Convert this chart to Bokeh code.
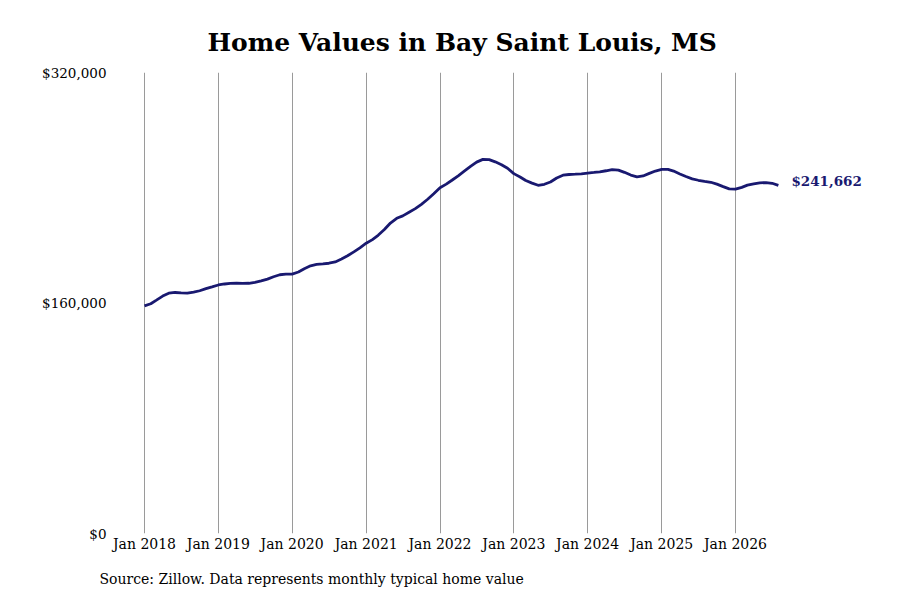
from datetime import datetime, timedelta

import pandas as pd
from bokeh.plotting import figure
from bokeh.models import (ColumnDataSource, Range1d, FixedTicker, NumeralTickFormatter,
                          DatetimeTickFormatter, Title)
from bokeh.core.properties import value
from bokeh.embed import file_html
from bokeh.resources import INLINE

# monthly typical home value, Jan 2018 - Aug 2026
values = [
    158000, 159500, 162000, 164800, 166800, 167300, 167000, 166900, 167500, 168500, 170000, 171200,
    172500, 173200, 173600, 173700, 173600, 173700, 174300, 175300, 176600, 178200, 179600, 180000,
    180000, 181500, 183800, 185800, 186800, 187200, 187600, 188500, 190500, 192800, 195500, 198300,
    201500, 204000, 207000, 211000, 215500, 218800, 220500, 223000, 225500, 228500, 232000, 235800,
    240000, 242500, 245200, 248300, 251500, 254800, 257800, 259700, 259500, 258000, 256000, 253500,
    249800, 247500, 245000, 243200, 241700, 242400, 244000, 246800, 248700, 249200, 249400, 249700,
    250200, 250600, 251000, 251800, 252600, 252200, 250700, 248800, 247600, 248200, 250000, 251600,
    252700, 252800, 251600, 249600, 247800, 246200, 245200, 244400, 243800, 242500, 240800, 239200,
    239000, 240300, 241800, 242700, 243400, 243600, 243100, 241662,
]
dates = pd.date_range("2018-01-01", periods=len(values), freq="MS")
tick_years = list(range(2018, 2027))
y_ticks = [0, 160000, 320000]
last_label = ["$241,662"]

navy = "#191970"
serif = "DejaVu Serif"

src = ColumnDataSource(data=dict(date=dates, value=values))

# x range chosen so that one year is ~74 px in a 760 px frame
px_per_day = 73.875 / 365.25
start = datetime(2018, 1, 1) - timedelta(days=24 / px_per_day)
end = datetime(2018, 1, 1) + timedelta(days=736 / px_per_day)

p = figure(width=884, height=600, x_axis_type="datetime",
           x_range=Range1d(start, end), y_range=Range1d(0, 320000),
           output_backend="svg", toolbar_location=None,
           min_border_left=120, min_border_right=4,
           min_border_top=72, min_border_bottom=66)
p.outline_line_color = None
p.background_fill_color = "white"

p.title = Title(text="Home Values in Bay Saint Louis, MS", align="left", offset=87,
                text_font=serif, text_font_size="25px", text_font_style="bold",
                text_color="black", standoff=31)

p.line("date", "value", source=src, line_color=navy, line_width=2.8)
p.text(x=[dates[-1]], y=[values[-1]], text=last_label, x_offset=13, y_offset=-4,
       text_font=value(serif), text_font_size="13.5px", text_font_style="bold",
       text_color=navy, text_baseline="middle", text_align="left")

yr_ms = [pd.Timestamp(f"{y}-01-01").value // 10**6 for y in tick_years]
p.xaxis.ticker = FixedTicker(ticks=yr_ms)
p.xaxis.formatter = DatetimeTickFormatter(days="%b %Y", months="%b %Y", years="%b %Y")
p.yaxis.ticker = FixedTicker(ticks=y_ticks)
p.yaxis.formatter = NumeralTickFormatter(format="$0,0")

for ax in (p.xaxis, p.yaxis):
    ax.axis_line_color = None
    ax.major_tick_line_color = None
    ax.minor_tick_line_color = None
    ax.major_tick_out = 0
    ax.major_tick_in = 0
    ax.minor_tick_out = 0
    ax.minor_tick_in = 0
    ax.major_label_text_font = serif
    ax.major_label_text_color = "black"
p.xaxis.major_label_text_font_size = "14px"
p.yaxis.major_label_text_font_size = "13.5px"
p.xaxis.major_label_standoff = 2
p.yaxis.major_label_standoff = 14

p.xgrid.grid_line_color = "#9a9a9a"
p.xgrid.grid_line_width = 1
p.ygrid.grid_line_color = None

p.add_layout(Title(text="Source: Zillow. Data represents monthly typical home value",
                   align="left", offset=-21, text_font=serif, text_font_size="14px",
                   text_font_style="normal", text_color="black", standoff=28), "below")

open("out.html", "w").write(file_html(p, INLINE))
